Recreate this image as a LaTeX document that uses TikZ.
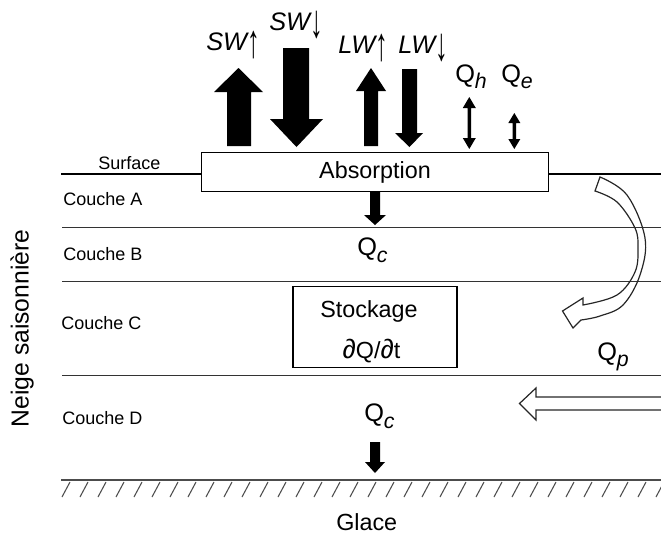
\documentclass[tikz,border=0pt]{standalone}
\usepackage{fontspec}
\setmainfont{Liberation Sans}
\newcommand{\upar}{\raisebox{-5.5pt}{\scalebox{1}[1.85]{↑}}}
\newcommand{\dnar}{\raisebox{-5.5pt}{\scalebox{1}[1.85]{↓}}}
\newcommand{\subl}[1]{\raisebox{-4.5pt}{\fontsize{16}{18}\selectfont\itshape #1}}
\begin{document}
\begin{tikzpicture}[x=0.75pt,y=-0.75pt,
  lbl/.style={inner sep=0pt,anchor=base west},
  big/.style={font=\fontsize{19}{22}\selectfont},
  mid/.style={font=\fontsize{17.5}{21}\selectfont},
  small/.style={font=\fontsize{13.5}{16}\selectfont},
  layer/.style={draw=black!80,line width=0.75pt},
  boxstyle/.style={draw=black,line width=1.1pt,fill=white},
  blockarrow/.style={fill=black},
  hollow/.style={draw=black!85,line width=0.9pt,line join=miter},
  hatch/.style={draw=black!70,line width=0.8pt}]
\useasboundingbox (0,0) rectangle (661,536);

% surface and layers
\draw[line width=1.5pt] (61,174) -- (661,174);
\draw[layer] (62,227.5) -- (661,227.5);
\draw[layer] (62,281.5) -- (661,281.5);
\draw[layer] (62,375) -- (661,375);

% absorption box
\node[boxstyle,minimum width=347*0.75pt,minimum height=39*0.75pt,inner sep=0pt,mid] (abs) at (375,172) {Absorption};

% ground with hatching
\draw[hatch] (61,480) -- (661,480);
\foreach \i in {0,...,33}{
  \draw[hatch] ({62+18*\i},497) -- ({70+18*\i},482);
}

% block arrows above surface
\fill[blockarrow] (227,146) -- (227,92) -- (214,92) -- (238.5,68) -- (263,92) -- (251,92) -- (251,146) -- cycle;
\fill[blockarrow] (283,48) -- (309,48) -- (309,119) -- (323,119) -- (296.5,147) -- (270,119) -- (283,119) -- cycle;
\fill[blockarrow] (364,146) -- (364,91) -- (356,91) -- (371,68) -- (386,91) -- (378,91) -- (378,146) -- cycle;
\fill[blockarrow] (402,69) -- (417,69) -- (417,133) -- (423,133) -- (409.5,147) -- (395,133) -- (402,133) -- cycle;
% double arrows Qh, Qe
\fill[blockarrow] (469.3,97) -- (475.8,108) -- (471,108) -- (471,138) -- (475.8,138) -- (469.3,149) -- (462.8,138) -- (467.6,138) -- (467.6,108) -- (462.8,108) -- cycle;
\fill[blockarrow] (514.3,113) -- (520.3,123) -- (516,123) -- (516,139) -- (520.3,139) -- (514.3,149) -- (508.3,139) -- (512.6,139) -- (512.6,123) -- (508.3,123) -- cycle;

% Qc arrows
\fill[blockarrow] (370,192) -- (380,192) -- (380,215) -- (386,215) -- (375,225) -- (364,215) -- (370,215) -- cycle;
\fill[blockarrow] (370,442) -- (380,442) -- (380,462) -- (385,462) -- (375,473) -- (365,462) -- (370,462) -- cycle;

% labels
\node[lbl,big] (swu) at (206,50) {\itshape SW\upshape\upar};
\node[lbl,big] (swd) at (269,30) {\itshape SW\upshape\dnar};
\node[lbl,big] (lwu) at (338,53) {\itshape LW\upshape\upar};
\node[lbl,big] (lwd) at (398,53) {\itshape LW\upshape\dnar};
\node[lbl,big] (qh) at (455,82) {Q\subl{h}};
\node[lbl,big] (qe) at (501,82) {Q\subl{e}};
\node[lbl,big] (qc1) at (357,255) {Q\raisebox{-1pt}{\subl{c}}};
\node[lbl,big] (qc2) at (364,421) {Q\raisebox{-1pt}{\subl{c}}};
\node[lbl,big] (qp) at (597,360) {Q\subl{p}};

\node[lbl,small] (surf) at (98,169) {Surface};
\node[lbl,small] (ca) at (63,205) {Couche A};
\node[lbl,small] (cb) at (63,260.5) {Couche B};
\node[lbl,small] (cc) at (61,329) {Couche C};
\node[lbl,small] (cd) at (62,424) {Couche D};
\node[font=\fontsize{18.5}{22}\selectfont,inner sep=0pt,rotate=90] (neige) at (22,328.5) {Neige saisonnière};
\node[lbl,mid] (glace) at (336,530) {Glace};

% stockage box
\draw[boxstyle] (293,286.5) rectangle (457,367.5);
\node[mid,inner sep=0pt,anchor=base] (stock) at (369,317) {Stockage};
\node[mid,inner sep=0pt,anchor=base] (dq) at (371.5,358) {\scalebox{1.15}{∂}Q/\scalebox{1.15}{∂}t};

% curved hollow arrow Qp
\draw[hollow] plot[smooth,tension=0.6] coordinates {(600,177) (627,195) (645,238) (640,275) (623,305) (600,316) (581,320)}
  -- (573,328) -- (562.5,311) -- (583,298)
  -- plot[smooth,tension=0.6] coordinates {(583,305) (617,295) (635,272) (638,248) (635,228) (617,202) (595,191)} -- cycle;

% straight hollow arrow
\coordinate (hr1) at (661,397);
\coordinate (hr2) at (661,410);
\draw[hollow] (hr1) -- (536,397) -- (536,388) -- (519.5,403.5) -- (536,420) -- (536,410) -- (hr2);
\end{tikzpicture}
\end{document}
